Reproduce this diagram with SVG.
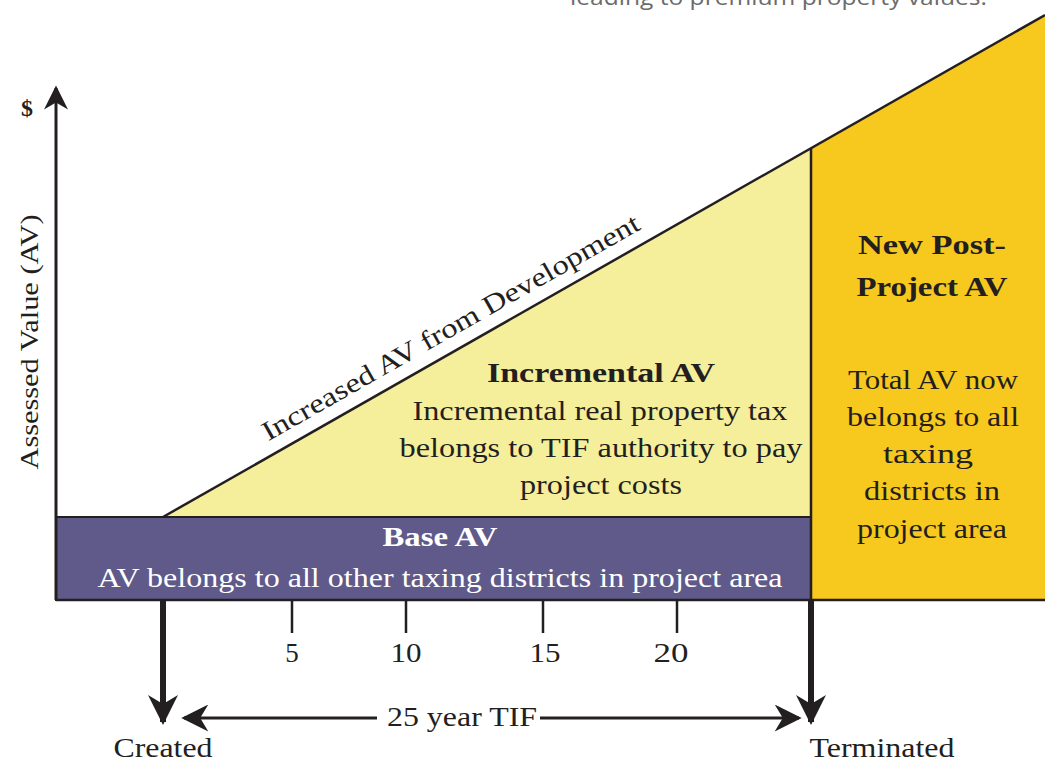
<svg xmlns="http://www.w3.org/2000/svg" width="1045" height="760" viewBox="0 0 1045 760">
<style>
.s{font-family:"Liberation Serif",serif;fill:#231f20}
.c{text-anchor:middle}
.b{font-weight:bold}
.w{fill:#ffffff}
.ln{stroke:#231f20;fill:none}
</style>
<defs>
<marker id="ah" viewBox="0 0 10 10" refX="9" refY="5" markerWidth="5" markerHeight="5" orient="auto" markerUnits="strokeWidth">
<path d="M0,0 L10,5 L0,10 L3,5 Z" fill="#231f20"/>
</marker>
<marker id="ahy" viewBox="0 0 10 10" refX="9" refY="5" markerWidth="9" markerHeight="8" orient="auto" markerUnits="strokeWidth">
<path d="M0,0 L10,5 L0,10 L3,5 Z" fill="#231f20"/>
</marker>
<marker id="ahs" viewBox="0 0 10 10" refX="9" refY="5" markerWidth="10" markerHeight="9" orient="auto" markerUnits="strokeWidth">
<path d="M0,0 L10,5 L0,10 L3,5 Z" fill="#231f20"/>
</marker>
</defs>
<rect width="1045" height="760" fill="#ffffff"/>
<text x="570" y="5" font-family="'Open Sans',sans-serif" font-size="22" fill="#6b6b6b" textLength="417" lengthAdjust="spacingAndGlyphs">leading to premium property values.</text>

<g id="post-project">
<polygon points="811,148 1045,15 1045,600 811,600" fill="#f7c81e"/>
<text class="s c b" x="932" y="254" font-size="28" textLength="148" lengthAdjust="spacingAndGlyphs">New Post-</text>
<text class="s c b" x="932" y="296" font-size="28" textLength="151" lengthAdjust="spacingAndGlyphs">Project AV</text>
<text class="s c" x="933" y="389" font-size="27" textLength="170" lengthAdjust="spacingAndGlyphs">Total AV now</text>
<text class="s c" x="933" y="426" font-size="27" textLength="172" lengthAdjust="spacingAndGlyphs">belongs to all</text>
<text class="s c" x="928" y="463" font-size="27" textLength="90" lengthAdjust="spacingAndGlyphs">taxing</text>
<text class="s c" x="932" y="500" font-size="27" textLength="136" lengthAdjust="spacingAndGlyphs">districts in</text>
<text class="s c" x="932" y="538" font-size="27" textLength="150" lengthAdjust="spacingAndGlyphs">project area</text>
</g>

<g id="incremental">
<polygon points="163,517 811,148 811,517" fill="#f5ef9c"/>
<text class="s c b" x="601" y="382" font-size="28" textLength="228" lengthAdjust="spacingAndGlyphs">Incremental AV</text>
<text class="s c" x="600" y="420" font-size="27" textLength="375" lengthAdjust="spacingAndGlyphs">Incremental real property tax</text>
<text class="s c" x="601" y="457" font-size="27" textLength="403" lengthAdjust="spacingAndGlyphs">belongs to TIF authority to pay</text>
<text class="s c" x="601" y="494" font-size="27" textLength="162" lengthAdjust="spacingAndGlyphs">project costs</text>
</g>

<g id="base">
<rect x="56" y="517" width="755" height="83" fill="#5f5a8a" stroke="#231f20" stroke-width="2"/>
<text class="s c b w" x="440" y="546" font-size="28" textLength="115" lengthAdjust="spacingAndGlyphs">Base AV</text>
<text class="s c w" x="440" y="587" font-size="27" textLength="685" lengthAdjust="spacingAndGlyphs">AV belongs to all other taxing districts in project area</text>
</g>

<g id="axis-labels">
<text class="s c" x="27" y="116" font-size="24" font-weight="bold" fill="#444">$</text>
<text class="s c" font-size="26" fill="#444" transform="translate(38,342) rotate(-90)" textLength="255" lengthAdjust="spacingAndGlyphs">Assessed Value (AV)</text>
<text class="s c" font-size="27" transform="translate(455,335) rotate(-29.65)" textLength="430" lengthAdjust="spacingAndGlyphs">Increased AV from Development</text>
<text class="s c" x="292" y="662" font-size="27">5</text>
<text class="s c" x="406" y="662" font-size="27" textLength="31" lengthAdjust="spacingAndGlyphs">10</text>
<text class="s c" x="545" y="662" font-size="27" textLength="31" lengthAdjust="spacingAndGlyphs">15</text>
<text class="s c" x="671" y="662" font-size="27" textLength="35" lengthAdjust="spacingAndGlyphs">20</text>
<text class="s c" x="462" y="726" font-size="28" textLength="150" lengthAdjust="spacingAndGlyphs">25 year TIF</text>
<text class="s c" x="163" y="757" font-size="27" textLength="99" lengthAdjust="spacingAndGlyphs">Created</text>
<text class="s c" x="882" y="757" font-size="27" textLength="145" lengthAdjust="spacingAndGlyphs">Terminated</text>
</g>

<g id="connectors">
<line class="ln" x1="163" y1="517" x2="1045" y2="15" stroke-width="2.5"/>
<line class="ln" x1="811" y1="148" x2="811" y2="600" stroke-width="2.5"/>
<line class="ln" x1="56" y1="600" x2="56" y2="88" stroke-width="3" marker-end="url(#ahy)"/>
<line class="ln" x1="56" y1="600" x2="1045" y2="600" stroke-width="2.5"/>
<line class="ln" x1="292" y1="600" x2="292" y2="633" stroke-width="2.5"/>
<line class="ln" x1="406" y1="600" x2="406" y2="633" stroke-width="2.5"/>
<line class="ln" x1="543" y1="600" x2="543" y2="633" stroke-width="2.5"/>
<line class="ln" x1="677" y1="600" x2="677" y2="633" stroke-width="2.5"/>
<line class="ln" x1="163" y1="600" x2="163" y2="722" stroke-width="6" marker-end="url(#ah)"/>
<line class="ln" x1="811" y1="600" x2="811" y2="722" stroke-width="6" marker-end="url(#ah)"/>
<line class="ln" x1="377" y1="718" x2="184" y2="718" stroke-width="3" marker-end="url(#ahs)"/>
<line class="ln" x1="540" y1="718" x2="799" y2="718" stroke-width="3" marker-end="url(#ahs)"/>
</g>
</svg>
